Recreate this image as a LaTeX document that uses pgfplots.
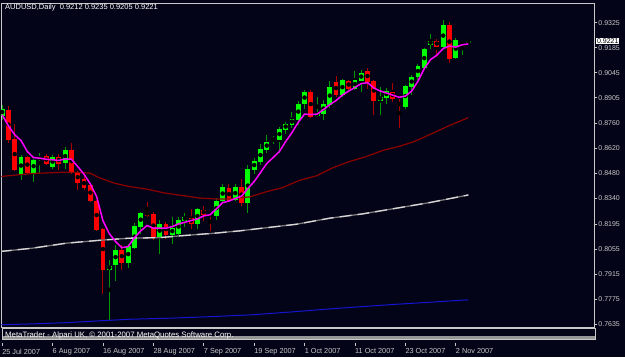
\documentclass[border=0pt]{standalone}
\usepackage{pgfplots}
\pgfplotsset{compat=1.18}
\usepackage{pgfplotstable}
\usepackage{fontspec}
\setmainfont{Liberation Sans}
\definecolor{bg}{RGB}{4,4,24}
\definecolor{bullbody}{RGB}{0,255,0}
\definecolor{bullwick}{RGB}{0,150,0}
\definecolor{bearbody}{RGB}{255,0,0}
\definecolor{bearwick}{RGB}{170,0,0}
\definecolor{fastma}{RGB}{255,0,255}
\definecolor{midma}{RGB}{140,0,0}
\definecolor{slowma}{RGB}{215,215,215}
\definecolor{slowdark}{RGB}{120,120,120}
\definecolor{longma}{RGB}{20,20,210}
\definecolor{frm}{RGB}{200,200,200}
\definecolor{band}{RGB}{150,150,150}

\pgfplotstableread{
i o h l c
0 0.8805 0.8866 0.8782 0.8844
3 0.8474 0.8586 0.8446 0.8575
5 0.8485 0.8564 0.8435 0.8558
6 0.8558 0.8597 0.8480 0.8575
8 0.8519 0.8586 0.8508 0.8575
10 0.8541 0.8631 0.8508 0.8614
17 0.7942 0.7998 0.7662 0.7965
18 0.7970 0.8082 0.7881 0.8054
20 0.7981 0.8088 0.7953 0.8077
21 0.8065 0.8205 0.8060 0.8189
22 0.8183 0.8267 0.8144 0.8261
25 0.8121 0.8222 0.8032 0.8200
27 0.8138 0.8239 0.8088 0.8177
28 0.8144 0.8239 0.8138 0.8222
29 0.8217 0.8261 0.8183 0.8239
31 0.8200 0.8289 0.8172 0.8284
34 0.8245 0.8345 0.8222 0.8329
35 0.8329 0.8424 0.8323 0.8407
37 0.8334 0.8424 0.8329 0.8407
39 0.8317 0.8530 0.8261 0.8508
40 0.8502 0.8569 0.8480 0.8553
41 0.8547 0.8648 0.8530 0.8620
42 0.8614 0.8698 0.8597 0.8659
43 0.8665 0.8693 0.8648 0.8673
44 0.8670 0.8743 0.8597 0.8732
45 0.8726 0.8771 0.8704 0.8760
46 0.8754 0.8827 0.8737 0.8788
47 0.8782 0.8889 0.8754 0.8872
48 0.8872 0.8950 0.8844 0.8939
50 0.8805 0.8911 0.8799 0.8821
51 0.8816 0.8894 0.8782 0.8872
52 0.8866 0.9001 0.8849 0.8967
54 0.8922 0.9012 0.8911 0.9006
56 0.8956 0.9057 0.8950 0.9006
57 0.9001 0.9062 0.8939 0.9045
60 0.8889 0.8967 0.8810 0.8911
61 0.8905 0.8961 0.8872 0.8945
64 0.8855 0.8978 0.8844 0.8973
65 0.8967 0.9034 0.8922 0.9023
66 0.9023 0.9096 0.9006 0.9085
67 0.9073 0.9185 0.9068 0.9180
68 0.9202 0.9264 0.9180 0.9225
70 0.9191 0.9342 0.9180 0.9314
72 0.9129 0.9241 0.9124 0.9230
73 0.9202 0.9219 0.9146 0.9208
74 0.9212 0.9235 0.9205 0.9221
}\tabbull

\pgfplotstableread{
i o h l c
1 0.8838 0.8861 0.8653 0.8670
2 0.8676 0.8760 0.8497 0.8502
4 0.8575 0.8581 0.8480 0.8485
7 0.8581 0.8592 0.8530 0.8536
9 0.8575 0.8592 0.8502 0.8536
11 0.8614 0.8653 0.8480 0.8485
12 0.8491 0.8497 0.8390 0.8429
13 0.8452 0.8474 0.8390 0.8401
14 0.8418 0.8424 0.8323 0.8329
15 0.8329 0.8334 0.8161 0.8166
16 0.8172 0.8177 0.7808 0.7942
19 0.8054 0.8082 0.7942 0.7981
23 0.8267 0.8323 0.8239 0.8245
24 0.8256 0.8267 0.8110 0.8121
26 0.8200 0.8211 0.8116 0.8138
30 0.8233 0.8284 0.8172 0.8200
32 0.8278 0.8301 0.8217 0.8250
33 0.8256 0.8261 0.8161 0.8245
36 0.8401 0.8424 0.8323 0.8329
38 0.8407 0.8452 0.8301 0.8317
49 0.8939 0.8950 0.8793 0.8799
53 0.8995 0.9029 0.8911 0.8922
55 0.9001 0.9006 0.8950 0.8956
58 0.9057 0.9073 0.8956 0.8995
59 0.9001 0.9006 0.8810 0.8889
62 0.8939 0.8989 0.8883 0.8900
63 0.8877 0.8900 0.8737 0.8861
69 0.9225 0.9236 0.9135 0.9191
71 0.9314 0.9331 0.9101 0.9124
}\tabbear

\pgfplotstableread{
i p
0 0.8809
1 0.8747
2 0.8697
3 0.8665
4 0.8603
5 0.8569
6 0.8566
7 0.8560
8 0.8557
9 0.8553
10 0.8562
11 0.8560
12 0.8519
13 0.8476
14 0.8422
15 0.8351
16 0.8216
17 0.8144
18 0.8099
19 0.8065
20 0.8071
21 0.8121
22 0.8159
23 0.8189
24 0.8174
25 0.8174
26 0.8174
27 0.8183
28 0.8198
29 0.8207
30 0.8217
31 0.8226
32 0.8243
33 0.8249
34 0.8282
35 0.8317
36 0.8326
37 0.8340
38 0.8354
39 0.8396
40 0.8435
41 0.8485
42 0.8536
43 0.8569
44 0.8603
45 0.8659
46 0.8709
47 0.8767
48 0.8813
49 0.8810
50 0.8813
51 0.8838
52 0.8866
53 0.8889
54 0.8919
55 0.8942
56 0.8962
57 0.8984
58 0.8989
59 0.8959
60 0.8942
61 0.8931
62 0.8919
63 0.8907
64 0.8914
65 0.8942
66 0.8997
67 0.9068
68 0.9118
69 0.9143
70 0.9180
71 0.9194
72 0.9188
73 0.9201
74 0.9206
}\tabfast

\pgfplotstableread{
i p
-0.4 0.8463
4.8 0.8480
10.2 0.8488
13.9 0.8483
15.4 0.8457
17.8 0.8426
20.2 0.8407
22.9 0.8393
25.8 0.8371
28.2 0.8359
31.3 0.8343
33.7 0.8338
36.1 0.8337
37.7 0.8345
39.3 0.8349
42.0 0.8379
44.5 0.8401
47.2 0.8442
49.9 0.8467
52.4 0.8511
55.1 0.8547
57.8 0.8575
60.4 0.8609
63.1 0.8633
65.4 0.8659
67.8 0.8697
71.0 0.8749
74 0.8793
}\tabmid

\pgfplotstableread{
i p
-0.4 0.8043
4.8 0.8062
10.2 0.8090
15.4 0.8106
20.2 0.8118
25.0 0.8121
28.2 0.8131
33.4 0.8145
37.7 0.8159
41.3 0.8174
46.7 0.8196
52.0 0.8230
57.2 0.8254
62.6 0.8286
67.8 0.8317
74 0.8360
}\tabslow

\pgfplotstableread{
i p
-0.4 0.7633
4.8 0.7638
10.2 0.7645
15.4 0.7655
20.2 0.7664
26.6 0.7670
33.4 0.7679
39.7 0.7689
46.7 0.7707
52.0 0.7722
57.2 0.7735
62.6 0.7748
67.8 0.7759
74 0.7773
}\tablong

\begin{document}
\begin{tikzpicture}[x=1pt,y=1pt]
\fill[bg] (0,0) rectangle (625,-357);
\begin{axis}[
  at={(2,-2)}, anchor=north west,
  scale only axis, width=593pt, height=324pt,
  xmin=-0.14, xmax=93.98, ymin=0.76174, ymax=0.94318,
  clip mode=individual,
  axis line style={frm, line width=0.9pt},
  ytick={0.7635,0.7775,0.7915,0.8055,0.8195,0.8340,0.8480,0.8620,0.8760,0.8905,0.9045,0.9185,0.9325},
  yticklabels={0.7635,0.7775,0.7915,0.8055,0.8195,0.8340,0.8480,0.8620,0.8760,0.8905,0.9045,0.9185,0.9325},
  ytick pos=right, yticklabel pos=right,
  xtick={0,8,16,24,32,40,48,56,64,72},
  xticklabels={25 Jul 2007,6 Aug 2007,16 Aug 2007,28 Aug 2007,7 Sep 2007,19 Sep 2007,1 Oct 2007,11 Oct 2007,23 Oct 2007,2 Nov 2007},
  xtick pos=bottom,
  tick align=outside,
  major tick length=3pt,
  tick style={frm, line width=0.6pt},
  xtick style={yshift=-15pt},
  ticklabel style={font=\fontsize{7}{8}\selectfont, text=frm},
  yticklabel style={anchor=west, inner sep=0pt, xshift=1pt},
  xticklabel style={anchor=north west, inner sep=0pt, yshift=-18pt, font=\fontsize{7.3}{8}\selectfont},
  /pgf/number format/assume math mode=true,
]
% wicks
\addplot[only marks, mark=none, forget plot,
  error bars/.cd, y dir=both, y explicit, error mark=none,
  error bar style={solid, line width=1pt, color=bullwick}]
  table[x=i, y expr={(\thisrow{h}+\thisrow{l})/2}, y error expr={(\thisrow{h}-\thisrow{l})/2}] {\tabbull};
\addplot[only marks, mark=none, forget plot,
  error bars/.cd, y dir=both, y explicit, error mark=none,
  error bar style={solid, line width=1pt, color=bearwick}]
  table[x=i, y expr={(\thisrow{h}+\thisrow{l})/2}, y error expr={(\thisrow{h}-\thisrow{l})/2}] {\tabbear};
% bodies
\addplot[only marks, mark=none, forget plot,
  error bars/.cd, y dir=both, y explicit, error mark=none,
  error bar style={solid, line width=4.8pt, color=bullbody}]
  table[x=i, y expr={(\thisrow{o}+\thisrow{c})/2}, y error expr={(\thisrow{c}-\thisrow{o})/2}] {\tabbull};
\addplot[only marks, mark=none, forget plot,
  error bars/.cd, y dir=both, y explicit, error mark=none,
  error bar style={solid, line width=4.8pt, color=bearbody}]
  table[x=i, y expr={(\thisrow{o}+\thisrow{c})/2}, y error expr={(\thisrow{o}-\thisrow{c})/2}] {\tabbear};
% moving averages
\addplot[longma, line width=1pt, no markers] table[x=i, y=p] {\tablong};
\addplot[slowdark, line width=1.3pt, no markers] table[x=i, y=p] {\tabslow};
\addplot[slowma, line width=1.3pt, no markers, dash pattern=on 12pt off 6pt] table[x=i, y=p] {\tabslow};
\addplot[midma, line width=1.2pt, no markers] table[x=i, y=p] {\tabmid};
\addplot[fastma, line width=1.5pt, no markers] table[x=i, y=p] {\tabfast};
\coordinate (cp) at (axis cs:93.98,0.9221);
\end{axis}
% current price marker
\node[fill=white, text=black, anchor=west, inner sep=0.6pt, font=\fontsize{7}{8}\selectfont] at ([xshift=2pt]cp) {0.9221};
% title
\node[anchor=north west, inner sep=0pt, text=white, font=\fontsize{7.5}{9}\selectfont] at (5,-4.3) {AUDUSD,Daily\ \ 0.9212 0.9235 0.9205 0.9221};
% bottom info strip
\draw[band, line width=2.4pt] (2,-337.5) -- (595,-337.5);
\draw[frm, line width=0.8pt] (2,-328.7) rectangle (595,-339.8);
\node[anchor=west, inner sep=0pt, text=white, font=\fontsize{7.8}{9}\selectfont] at (5,-335) {MetaTrader - Alpari UK, \textcopyright\ 2001-2007 MetaQuotes Software Corp.};
\end{tikzpicture}
\end{document}
